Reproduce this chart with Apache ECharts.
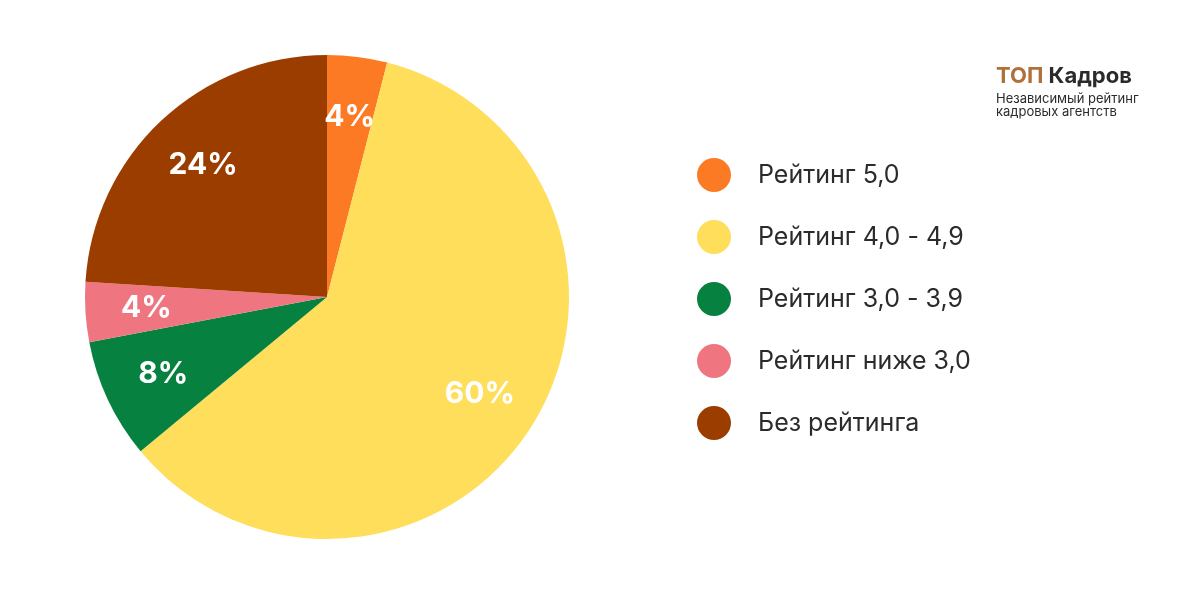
<!DOCTYPE html><html><head><meta charset="utf-8"><script src="https://cdn.jsdelivr.net/npm/echarts@6/dist/echarts.min.js"></script>
<style>body{margin:0}#c{width:1200px;height:600px}</style></head><body><div id="c"></div><script>
const categories=['Рейтинг 5,0','Рейтинг 4,0 - 4,9','Рейтинг 3,0 - 3,9','Рейтинг ниже 3,0','Без рейтинга'];
const values=[4,60,8,4,24];
const colors=['#fd7a25','#fede5b','#068140','#ef7680','#9c3d00'];
const chart=echarts.init(document.getElementById('c'));
const data=categories.map((n,i)=>({name:n,value:values[i]}));
chart.setOption({
 backgroundColor:'#fff',
 color:colors,
 graphic:[
  {type:'text',left:996,top:65,style:{rich:{a:{fill:'#b0703a',fontSize:22,fontWeight:'bold',fontFamily:'Inter'},b:{fill:'#2b2b2b',fontSize:22,fontWeight:'bold',fontFamily:'Inter'}},text:'{a|ТОП }{b|Кадров}'}},
  {type:'text',left:996,top:93,style:{text:'Независимый рейтинг\nкадровых агентств',fill:'#2b2b2b',fontSize:13,lineHeight:13,fontFamily:'Inter'}}
 ],
 legend:{orient:'vertical',left:692,top:153,itemWidth:34,itemHeight:34,itemGap:28,icon:'circle',
  textStyle:{fontSize:25,color:'#2b2b2b',fontFamily:'Inter',padding:[0,0,0,22]},data:categories},
 series:[
  {type:'pie',center:[327,297],radius:242,startAngle:90,clockwise:true,label:{show:false},labelLine:{show:false},emphasis:{disabled:true},data:data},
  {type:'pie',center:[327,297],radius:[132,224],startAngle:90,clockwise:true,silent:true,legendHoverLink:false,
   itemStyle:{color:'rgba(0,0,0,0)'},
   label:{position:'inside',formatter:'{c}%',color:'#fff',fontSize:30,fontWeight:'bold',fontFamily:'Inter'},
   labelLine:{show:false},emphasis:{disabled:true},data:data}
 ]
});
</script></body></html>
